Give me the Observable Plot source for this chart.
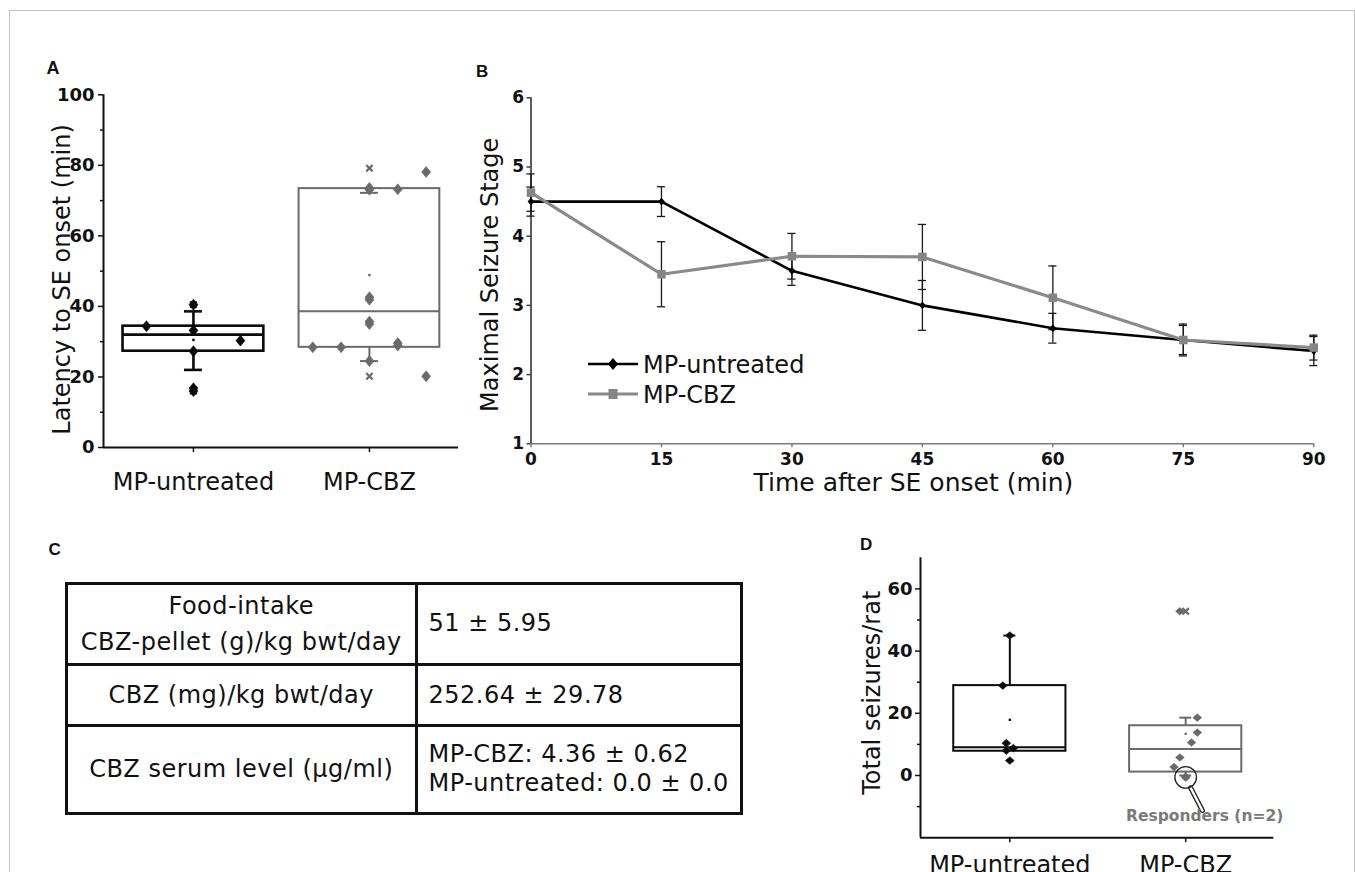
<!DOCTYPE html>
<html>
<head>
<meta charset="utf-8">
<script src="https://cdn.jsdelivr.net/npm/d3@7"></script>
<script src="https://cdn.jsdelivr.net/npm/@observablehq/plot@0.6"></script>
<style>
  html, body { margin: 0; padding: 0; background: #fff; }
  #fig { position: relative; width: 1355px; height: 872px; overflow: hidden; background: #fff; font-family: "DejaVu Sans", Verdana, sans-serif; color: #111; }
  .abs { position: absolute; }
  #frame { position: absolute; left: 9px; top: 10px; width: 1346px; height: 900px; border: 1.5px solid #c2c2c2; box-sizing: border-box; }
  .plabel { position: absolute; font-family: "Liberation Sans", Arial, sans-serif; font-weight: bold; line-height: 1; color: #111; }
  #tableC { position: absolute; left: 65px; top: 581.5px; width: 678px; height: 233px; box-sizing: border-box; border: 3px solid #111;
            display: grid; grid-template-columns: 349.5px 1fr; grid-template-rows: 81.7px 61px 1fr; font-size: 24px; letter-spacing: 0.5px; color: #111; }
  #tableC .cell { display: flex; flex-direction: column; justify-content: center; border: 0 solid #111; white-space: nowrap; }
  #tableC .lab { align-items: center; text-align: center; border-right-width: 3px; line-height: 36px; }
  #tableC .val { align-items: flex-start; padding-left: 11px; line-height: 29px; }
  #tableC .rowline { border-bottom-width: 3px; }
</style>
</head>
<body>
<div id="fig">
  <div id="frame"></div>
</div>
<script>
// ---------------- shared ----------------
const groupNames = ["MP-untreated", "MP-CBZ"];
const groupColors = ["#0a0a0a", "#6a6a6a"];
const panelLetters = ["A", "B", "C", "D"];

// ---------------- Panel A: latency to SE onset ----------------
const latencyUntreated = [34.4, 40.5, 33.2, 27.3, 16.8, 16.0, 30.3];
const latencyUntreatedLane = [-1, 0, 0, 0, 0, 0, 1];
const latencyCBZ = [28.4, 28.4, 73.6, 73.1, 73.2, 78.1, 42.6, 41.9, 35.7, 35.0, 29.6, 28.9, 24.5, 20.2];
const latencyCBZLane = [-2, -1, 0, 0, 1, 2, 0, 0, 0, 0, 1, 1, 0, 2];
const latencyQ1 = [27.3, 28.4];
const latencyMedian = [32.0, 38.6];
const latencyQ3 = [34.4, 73.4];
const latencyMean = [30.5, 48.9];
const latencyWhiskerLow = [22.0, 24.5];
const latencyWhiskerHigh = [38.6, 72.2];
const latencyMin = [16.0, 20.2];
const latencyMax = [40.5, 79.2];
const latencyTicks = [0, 20, 40, 60, 80, 100];
const latencyMinorTicks = [10, 30, 50, 70, 90];
const latencyLabel = "Latency to SE onset (min)";

// ---------------- Panel B: maximal seizure stage ----------------
const timePoints = [0, 15, 30, 45, 60, 75, 90];
const stageUntreated = [4.5, 4.5, 3.5, 3.0, 2.67, 2.5, 2.34];
const stageUntreatedErr = [0.21, 0.215, 0.21, 0.36, 0.215, 0.21, 0.21];
const stageCBZ = [4.63, 3.45, 3.71, 3.70, 3.11, 2.5, 2.39];
const stageCBZErr = [0.27, 0.47, 0.33, 0.47, 0.46, 0.23, 0.18];
const stageTicks = [1, 2, 3, 4, 5, 6];
const stageLabel = "Maximal Seizure Stage";
const timeLabel = "Time after SE onset (min)";

// ---------------- Panel C: table ----------------
const tableRowLabels = [["Food-intake", "CBZ-pellet (g)/kg bwt/day"], ["CBZ (mg)/kg bwt/day"], ["CBZ serum level (\u00b5g/ml)"]];
const tableRowValues = [["51 \u00b1 5.95"], ["252.64 \u00b1 29.78"], ["MP-CBZ: 4.36 \u00b1 0.62", "MP-untreated: 0.0 \u00b1 0.0"]];

// ---------------- Panel D: total seizures per rat ----------------
const seizuresUntreated = [45.0, 28.9, 10.4, 8.8, 8.0, 4.8];
const seizuresUntreatedLane = [0, -2, -1, 1, -1, 0];
const seizuresCBZ = [52.8, 18.6, 13.8, 10.6, 5.8, 2.7, -0.4, -0.7];
const seizuresCBZLane = [-1, 2, 2, 1, -1, -2, 0, 0];
const seizuresQ1 = [7.8, 1.1];
const seizuresMedian = [9.1, 8.5];
const seizuresQ3 = [28.9, 16.0];
const seizuresMean = [17.9, 13.4];
const seizuresWhiskerLow = [null, 0];
const seizuresWhiskerHigh = [45.0, 18.6];
const seizuresMin = [null, null];
const seizuresMax = [null, 52.8];
const seizuresTicks = [0, 20, 40, 60];
const seizuresMinorTicks = [-10, 10, 30, 50];
const seizuresLabel = "Total seizures/rat";
const responderNote = "Responders (n=2)";
const responderCircle = [{x: 1, y: -0.6}];
const responderHandle = [{x1: 1.028, y1: -3.95, x2: 1.095, y2: -11.25}];
const responderText = [{x: 1.108, y: -12.9}];

// ---------------- helpers ----------------
const FONT = "DejaVu Sans, Verdana, sans-serif";
const fig = document.getElementById("fig");

function place(node, left, top) {
  const wrap = document.createElement("div");
  wrap.className = "abs";
  wrap.style.left = left + "px";
  wrap.style.top = top + "px";
  wrap.appendChild(node);
  fig.appendChild(wrap);
}

const rhombus = (wf, hf) => ({
  draw(ctx, size) {
    const r = Math.sqrt(size / Math.PI);
    const w = r * wf, h = r * hf;
    ctx.moveTo(0, -h); ctx.lineTo(w, 0); ctx.lineTo(0, h); ctx.lineTo(-w, 0); ctx.closePath();
  }
});

function boxPanel(o) {
  const boxes = groupNames.map((name, g) => ({
    g, q1: o.q1[g], med: o.med[g], q3: o.q3[g], mean: o.mean[g],
    wlo: o.wlo[g], whi: o.whi[g], min: o.min[g], max: o.max[g]
  }));
  const marks = [
    Plot.ruleX([o.xDomain[0]], {stroke: "#111", strokeWidth: 2}),
    Plot.ruleY([o.yDomain[0]], {stroke: "#111", strokeWidth: 2}),
    Plot.axisY({ticks: o.yMinor, tickSize: 3, tickFormat: () => "", label: null, strokeWidth: 1.5}),
    Plot.axisY({ticks: o.yTicks, tickSize: 5, tickPadding: o.yPad, tickFormat: d => String(d), fontSize: 18, fontWeight: "bold", label: null, strokeWidth: 1.5}),
    Plot.axisX({ticks: [0, 1], tickFormat: i => groupNames[i], tickSize: 5, tickPadding: o.xPad, fontSize: o.xFont, label: null, strokeWidth: 1.5}),
    Plot.text([o.yLabel], {text: d => d, frameAnchor: "left", textAnchor: "middle", lineAnchor: "middle", rotate: -90, dx: o.yLabelDx, dy: o.yLabelDy, fontSize: 24, fill: "#111"})
  ];
  groupNames.forEach((name, g) => {
    const c = groupColors[g], sw = o.strokeW[g];
    const b = [boxes[g]];
    const whiskers = [{from: b[0].q1, to: b[0].wlo}, {from: b[0].q3, to: b[0].whi}].filter(d => d.to != null);
    const extremes = [b[0].min, b[0].max].filter(v => v != null);
    const pts = o.values[g].map((v, i) => ({v, pos: g + o.lanes[g][i] * o.laneStep[g]}));
    marks.push(
      Plot.rect(b, {x1: d => d.g - o.boxHalf, x2: d => d.g + o.boxHalf, y1: "q1", y2: "q3", fill: "none", stroke: c, strokeWidth: sw}),
      Plot.ruleX(whiskers, {x: () => g, y1: "from", y2: "to", stroke: c, strokeWidth: sw}),
      Plot.ruleY(whiskers, {y: "to", x1: () => g - o.capHalf, x2: () => g + o.capHalf, stroke: c, strokeWidth: sw}),
      Plot.ruleY(b, {y: "med", x1: d => d.g - o.boxHalf, x2: d => d.g + o.boxHalf, stroke: c, strokeWidth: sw}),
      Plot.dot(extremes, {x: () => g, y: d => d, symbol: "times", r: 3, stroke: c, strokeWidth: 2.2}),
      Plot.dot(b, {x: "g", y: "mean", symbol: "square", r: o.meanR, fill: c, stroke: null}),
      Plot.dot(pts, {x: "pos", y: "v", symbol: o.symbol, r: o.pointR, fill: c, stroke: c, strokeWidth: 0.6})
    );
  });
  return Plot.plot({
    width: o.width, height: o.height,
    marginLeft: o.margins[0], marginRight: o.margins[1], marginTop: o.margins[2], marginBottom: o.margins[3],
    style: {background: "transparent", fontFamily: FONT, overflow: "visible", color: "#111"},
    x: {type: "linear", domain: o.xDomain},
    y: {type: "linear", domain: o.yDomain},
    marks
  });
}

// ---------------- Panel A ----------------
place(boxPanel({
  width: 460, height: 440, margins: [83, 22, 34.3, 53],
  xDomain: [-0.511, 1.506], yDomain: [0, 100],
  values: [latencyUntreated, latencyCBZ], lanes: [latencyUntreatedLane, latencyCBZLane], laneStep: [0.267, 0.161],
  q1: latencyQ1, med: latencyMedian, q3: latencyQ3, mean: latencyMean,
  wlo: latencyWhiskerLow, whi: latencyWhiskerHigh, min: latencyMin, max: latencyMax,
  yTicks: latencyTicks, yMinor: latencyMinorTicks, yPad: 4, xPad: 20, xFont: 24,
  yLabel: latencyLabel, yLabelDx: -41.3, yLabelDy: 8.3,
  boxHalf: 0.4, capHalf: 0.051, strokeW: [2.6, 2], meanR: 1.4,
  symbol: rhombus(0.9, 1.1), pointR: 5
}), 20, 60);

// ---------------- Panel B ----------------
{
  const rows = (means, errs) => timePoints.map((t, i) => ({t, v: means[i], lo: means[i] - errs[i], hi: means[i] + errs[i]}));
  const rU = rows(stageUntreated, stageUntreatedErr);
  const rC = rows(stageCBZ, stageCBZErr);
  const both = rU.concat(rC);
  const capHalf = 0.47;
  const chart = Plot.plot({
    width: 880, height: 440, marginLeft: 60.5, marginRight: 36.7, marginTop: 37.3, marginBottom: 56.7,
    style: {background: "transparent", fontFamily: FONT, overflow: "visible", color: "#111"},
    x: {type: "linear", domain: [0, 90]},
    y: {type: "linear", domain: [1, 6]},
    marks: [
      Plot.ruleY([1], {stroke: "#7a7a7a", strokeWidth: 1.6}),
      Plot.ruleX([0], {stroke: "#333", strokeWidth: 1.6}),
      Plot.axisY({ticks: stageTicks, tickSize: 4, tickPadding: 3, tickFormat: d => String(d), fontSize: 17, fontWeight: "bold", label: null, stroke: "#333", strokeWidth: 1.4}),
      Plot.axisX({ticks: timePoints, tickSize: 4, tickPadding: 5, tickFormat: d => String(d), fontSize: 17, fontWeight: "bold", label: null, stroke: "#7a7a7a", strokeWidth: 1.4}),
      Plot.ruleX(both, {x: "t", y1: "lo", y2: "hi", stroke: "#1a1a1a", strokeWidth: 1.3}),
      Plot.ruleY(both, {y: "lo", x1: d => d.t - capHalf, x2: d => d.t + capHalf, stroke: "#1a1a1a", strokeWidth: 1.3}),
      Plot.ruleY(both, {y: "hi", x1: d => d.t - capHalf, x2: d => d.t + capHalf, stroke: "#1a1a1a", strokeWidth: 1.3}),
      Plot.line(rU, {x: "t", y: "v", stroke: "#000", strokeWidth: 2.6}),
      Plot.dot(rU, {x: "t", y: "v", symbol: rhombus(0.95, 1.1), r: 3.6, fill: "#000"}),
      Plot.line(rC, {x: "t", y: "v", stroke: "#8a8a8a", strokeWidth: 3.2}),
      Plot.dot(rC, {x: "t", y: "v", symbol: "square", r: 4.8, fill: "#858585"}),
      Plot.text([stageLabel], {text: d => d, frameAnchor: "left", textAnchor: "middle", lineAnchor: "middle", rotate: -90, dx: -41, dy: 4, fontSize: 24, fill: "#111"}),
      Plot.text([timeLabel], {text: d => d, frameAnchor: "bottom", textAnchor: "middle", lineAnchor: "middle", dx: -9, dy: 39, fontSize: 25, fill: "#111"})
    ]
  });
  place(chart, 470, 60);

  // legend
  const legendItems = [
    {label: groupNames[0], color: "#000", width: 2.6, shape: "diamond"},
    {label: groupNames[1], color: "#8a8a8a", width: 3.2, shape: "square"}
  ];
  const lg = d3.create("svg").attr("width", 240).attr("height", 60)
    .style("font-family", FONT).style("overflow", "visible");
  legendItems.forEach((it, i) => {
    const y = 14 + i * 30;
    const g = lg.append("g").attr("transform", `translate(0,${y})`);
    g.append("line").attr("x1", 3).attr("x2", 53).attr("stroke", it.color).attr("stroke-width", it.width);
    if (it.shape === "diamond") g.append("path").attr("d", "M28,-6L23,0L28,6L33,0Z").attr("fill", it.color);
    else g.append("rect").attr("x", 23.5).attr("y", -5).attr("width", 9).attr("height", 10).attr("fill", "#858585");
    g.append("text").attr("x", 58).attr("dy", "0.36em").attr("font-size", 24).attr("fill", "#111").text(it.label);
  });
  place(lg.node(), 585, 350);
}

// ---------------- Panel C (table) ----------------
{
  const t = document.createElement("div");
  t.id = "tableC";
  tableRowLabels.forEach((lines, i) => {
    const last = i === tableRowLabels.length - 1;
    const a = document.createElement("div");
    a.className = "cell lab" + (last ? "" : " rowline");
    lines.forEach(s => { const d = document.createElement("div"); d.textContent = s; a.appendChild(d); });
    const b = document.createElement("div");
    b.className = "cell val" + (last ? "" : " rowline");
    tableRowValues[i].forEach(s => { const d = document.createElement("div"); d.textContent = s; b.appendChild(d); });
    t.appendChild(a); t.appendChild(b);
  });
  fig.appendChild(t);
}

// ---------------- Panel D ----------------
{
  const chart = boxPanel({
    width: 500, height: 352, margins: [80, 66.7, 37.3, 34.8],
    xDomain: [-0.508, 1.501], yDomain: [-20, 70],
    values: [seizuresUntreated, seizuresCBZ], lanes: [seizuresUntreatedLane, seizuresCBZLane], laneStep: [0.02, 0.033],
    q1: seizuresQ1, med: seizuresMedian, q3: seizuresQ3, mean: seizuresMean,
    wlo: seizuresWhiskerLow, whi: seizuresWhiskerHigh, min: seizuresMin, max: seizuresMax,
    yTicks: seizuresTicks, yMinor: seizuresMinorTicks, yPad: 3, xPad: 13, xFont: 24,
    yLabel: seizuresLabel, yLabelDx: -48.3, yLabelDy: -5,
    boxHalf: 0.319, capHalf: 0.034, strokeW: [2, 2], meanR: 1.3,
    symbol: rhombus(1.1, 0.95), pointR: 4
  });
  // annotation overlay with the same scales
  const overlay = Plot.plot({
    width: 500, height: 352, marginLeft: 80, marginRight: 66.7, marginTop: 37.3, marginBottom: 34.8,
    style: {background: "transparent", fontFamily: FONT, overflow: "visible"},
    x: {type: "linear", domain: [-0.508, 1.501], axis: null},
    y: {type: "linear", domain: [-20, 70], axis: null},
    marks: [
      Plot.link(responderHandle, {x1: "x1", y1: "y1", x2: "x2", y2: "y2", stroke: "#222", strokeWidth: 5, strokeLinecap: "round"}),
      Plot.link(responderHandle, {x1: "x1", y1: "y1", x2: "x2", y2: "y2", stroke: "#fff", strokeWidth: 2.4, strokeLinecap: "round"}),
      Plot.dot(responderCircle, {x: "x", y: "y", r: 10.8, stroke: "#222", strokeWidth: 1.3, fill: "none"}),
      Plot.text(responderText, {x: "x", y: "y", text: () => responderNote, fontSize: 15.5, fontWeight: "bold", fill: "#7a7a7a"})
    ]
  });
  place(chart, 840, 520);
  place(overlay, 840, 520);
}

// ---------------- panel letters ----------------
[[panelLetters[0], 46.5, 58.5, 18], [panelLetters[1], 476, 63, 17], [panelLetters[2], 48.5, 541, 17], [panelLetters[3], 860, 536, 17]]
  .forEach(([s, x, y, fs]) => {
    const d = document.createElement("div");
    d.className = "plabel";
    d.style.left = x + "px"; d.style.top = y + "px"; d.style.fontSize = fs + "px";
    d.textContent = s;
    fig.appendChild(d);
  });
</script>
</body>
</html>
